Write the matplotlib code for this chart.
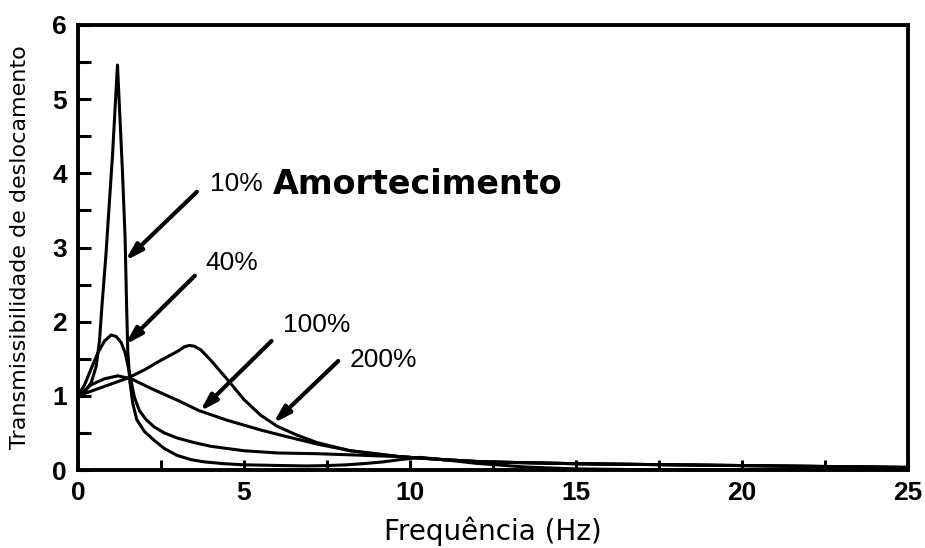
import matplotlib
matplotlib.use("Agg")
import matplotlib.pyplot as plt

# transmissibility curves, one per damping ratio
x_10 = [0.0, 0.2, 0.4, 0.55, 0.65, 0.72, 0.84, 0.94, 1.04, 1.12, 1.19, 1.26, 1.34, 1.42,
        1.46, 1.5, 1.56, 1.65, 1.77, 2.0, 2.27, 2.6, 2.97, 3.4, 3.8, 4.4, 5.0, 5.6, 6.2,
        6.9, 7.5, 8.1, 8.7, 9.2, 9.7, 10.3, 11.0, 12.0, 13.5, 15.0, 17.0, 25.0]
y_10 = [1.0, 1.05, 1.18, 1.4, 1.75, 2.2, 2.89, 3.57, 4.24, 4.9, 5.46, 4.79, 4.02, 3.12,
        2.3, 1.6, 1.2, 0.9, 0.68, 0.52, 0.41, 0.29, 0.2, 0.14, 0.11, 0.085, 0.07, 0.065, 0.06,
        0.055, 0.06, 0.07, 0.09, 0.11, 0.14, 0.17, 0.14, 0.09, 0.04, 0.015, 0.005, 0.005]

x_40 = [0.0, 0.2, 0.4, 0.6, 0.8, 1.0, 1.15, 1.3, 1.42, 1.5, 1.6, 1.7, 1.85, 2.05, 2.3, 2.6,
        3.0, 3.5, 4.0, 5.0, 6.0, 7.2, 8.5, 9.7, 11.0, 12.2, 15.0, 20.0, 25.0]
y_40 = [1.0, 1.15, 1.37, 1.58, 1.74, 1.82, 1.8, 1.72, 1.58, 1.42, 1.2, 0.98, 0.8, 0.68, 0.58, 0.5,
        0.43, 0.37, 0.32, 0.26, 0.23, 0.22, 0.2, 0.18, 0.14, 0.11, 0.085, 0.06, 0.035]

x_100 = [0.0, 0.4, 0.8, 1.2, 1.6, 2.2, 3.0, 3.65, 4.5, 5.5, 6.2, 7.2, 8.2, 9.7,
         11.0, 12.2, 15.0, 20.0, 25.0]
y_100 = [1.0, 1.15, 1.23, 1.27, 1.23, 1.1, 0.94, 0.8, 0.67, 0.54, 0.46, 0.35, 0.26, 0.18,
         0.14, 0.11, 0.085, 0.06, 0.035]

x_200 = [0.0, 0.5, 1.0, 1.5, 2.0, 2.5, 3.0, 3.2, 3.35, 3.5, 3.7, 4.0, 4.5, 5.0, 5.5,
         6.0, 6.6, 7.2, 8.2, 9.7, 11.0, 12.2, 15.0, 20.0, 25.0]
y_200 = [1.0, 1.08, 1.16, 1.24, 1.35, 1.48, 1.6, 1.66, 1.68, 1.67, 1.62, 1.48, 1.22, 0.95, 0.74,
         0.59, 0.47, 0.37, 0.26, 0.18, 0.14, 0.11, 0.085, 0.06, 0.035]

# label text, tail and tip of each pointer arrow
labels = ["10%", "40%", "100%", "200%"]
label_xy = [(3.98, 3.85), (3.83, 2.79), (6.17, 1.96), (8.19, 1.49)]
arrow_tail = [(3.58, 3.75), (3.52, 2.62), (5.83, 1.74), (7.84, 1.47)]
arrow_tip = [(1.42, 2.82), (1.42, 1.69), (3.67, 0.79), (5.88, 0.63)]

fig = plt.figure(figsize=(9.25, 5.48), dpi=100)
ax = fig.add_axes([0.0843, 0.1423, 0.8973, 0.8121])

for xs, ys in [(x_10, y_10), (x_40, y_40), (x_100, y_100), (x_200, y_200)]:
    ax.plot(xs, ys, color="black", lw=2.2, solid_joinstyle="round",
            solid_capstyle="round", clip_on=False)

for txt, pos, tail, tip in zip(labels, label_xy, arrow_tail, arrow_tip):
    ax.text(pos[0], pos[1], txt, fontsize=19, family="Liberation Sans",
            ha="left", va="center")
    ax.annotate("", xy=tip, xytext=tail,
                arrowprops=dict(arrowstyle="-|>,head_length=1.0,head_width=0.3",
                                lw=3.0, color="black", shrinkA=0, shrinkB=0))

ax.text(5.87, 3.85, "Amortecimento", fontsize=24, fontweight="bold",
        family="DejaVu Sans", ha="left", va="center")

ax.set_xlim(0, 25)
ax.set_ylim(0, 6)
ax.set_xticks([0, 5, 10, 15, 20, 25])
ax.set_xticks([2.5, 7.5, 12.5, 17.5, 22.5], minor=True)
ax.set_yticks(range(0, 7))
ax.set_yticks([0.5, 1.5, 2.5, 3.5, 4.5, 5.5], minor=True)
for lab in ax.get_xticklabels() + ax.get_yticklabels():
    lab.set_family("Liberation Sans")
    lab.set_fontweight("bold")
    lab.set_fontsize(19)
ax.tick_params(which="both", direction="in", width=2.2, length=7, pad=8)
ax.tick_params(axis="y", which="both", length=9)
for sp in ax.spines.values():
    sp.set_linewidth(2.8)

ax.set_xlabel("Frequência (Hz)", fontsize=20, labelpad=8)
ax.set_ylabel("Transmissibilidade de deslocamento", fontsize=16, labelpad=16)

fig.savefig("out.png", dpi=100)
